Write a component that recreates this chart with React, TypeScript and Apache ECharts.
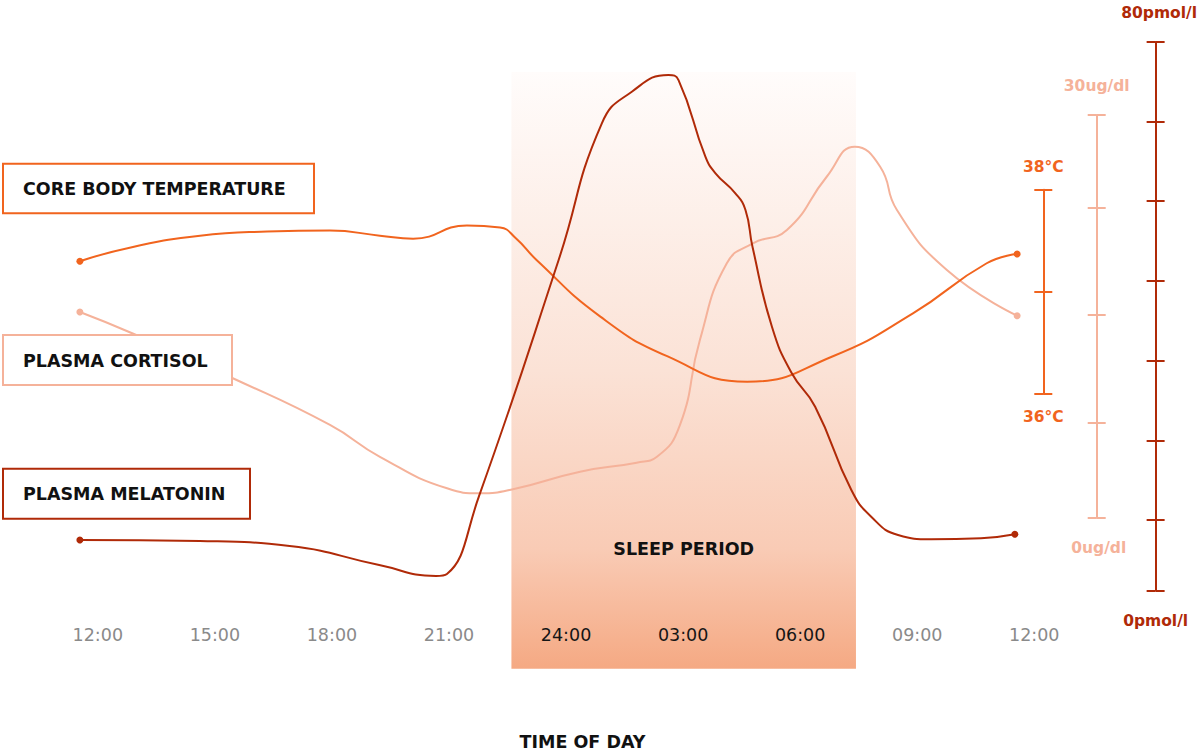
import React, { useEffect, useRef } from "react";
import * as echarts from "echarts";

const seriesNames = ["CORE BODY TEMPERATURE", "PLASMA CORTISOL", "PLASMA MELATONIN"];
const tickHours = [0, 3, 6, 9, 12, 15, 18, 21, 24];
const tickLabels = ["12:00", "15:00", "18:00", "21:00", "24:00", "03:00", "06:00", "09:00", "12:00"];
const sleepPeriod = [10.6, 19.43];
const sleepLabel = "SLEEP PERIOD";
const xTitle = "TIME OF DAY";

const tempHours = [-0.46, 0.9, 2.62, 4.34, 5.95, 7.23, 8.08, 9.46, 10.31, 10.7, 11.25, 12.87, 14.59, 16.64, 18.84, 20.89, 22.78, 23.56];
const tempValues = [37.3, 37.44, 37.55, 37.59, 37.6, 37.55, 37.52, 37.65, 37.63, 37.53, 37.31, 36.76, 36.37, 36.12, 36.37, 36.79, 37.28, 37.37];

const cortHours = [-0.46, 0.88, 3.46, 5.95, 7.23, 8.95, 9.79, 10.64, 12.36, 13.81, 14.33, 14.92, 15.43, 16.12, 16.79, 17.66, 18.68, 19.4, 20.05, 20.48, 21.76, 23.56];
const cortValues = [15.32, 13.74, 10.39, 6.91, 4.54, 2.19, 1.82, 2.12, 3.43, 4.1, 4.54, 6.91, 13.24, 18.95, 20.44, 21.43, 25.4, 27.64, 26.15, 22.92, 18.45, 15.05];

const melHours = [-0.46, 2.62, 4.93, 7.23, 8.69, 8.97, 9.79, 11.84, 12.95, 13.72, 14.66, 14.92, 15.61, 15.87, 16.38, 16.64, 16.82, 17.32, 17.83, 18.43, 19.36, 19.87, 20.56, 21.41, 22.69, 23.56];
const melValues = [7.34, 7.19, 6.46, 3.69, 2.09, 2.38, 13.66, 48.19, 68.14, 72.75, 75.18, 74.45, 63.26, 60.84, 57.92, 55.49, 50.13, 38.46, 31.66, 26.79, 14.63, 10.74, 8.07, 7.44, 7.59, 8.17];

const tempRange = [36, 38];
const tempTicks = [36, 37, 38];
const cortRange = [0, 30];
const cortTicks = [0, 7.05, 15.1, 23.12, 30];
const melRange = [0, 80];
const melTicks = [0, 10.26, 21.88, 33.5, 45.13, 56.8, 68.37, 80];
const axisNames = [["38°C", "36°C"], ["30ug/dl", "0ug/dl"], ["80pmol/l", "0pmol/l"]];

const C_TEMP = "#f1641e";
const C_CORT = "#f5b29a";
const C_MEL = "#b02a08";
const FONT = "DejaVu Sans";

function toData(hours: number[], values: number[]) {
  const last = hours.length - 1;
  return hours.map((h, i) =>
    i === 0 || i === last ? { value: [h, values[i]], symbol: "circle", symbolSize: 7 } : [h, values[i]]
  );
}

export default function App() {
  const ref = useRef<HTMLDivElement>(null);
  useEffect(() => {
    if (!ref.current) return;
    const chart = echarts.init(ref.current, undefined, { renderer: "svg" });
    const left = 78.3;
    const right = 146.2;
    const gridRightX = 1200 - right;
    const grids = [
      { left, right, top: 189.7, bottom: 752 - 394 },
      { left, right, top: 115, bottom: 752 - 517.7 },
      { left, right, top: 42, bottom: 752 - 590.3 },
      { left, right, top: 72, bottom: 752 - 668.7 },
    ];
    const xAxes = grids.map((g, i) => ({
      type: "value",
      gridIndex: i,
      min: -0.5,
      max: 24.5,
      show: i === 3,
      z: 10,
      axisLine: { show: false, onZero: false },
      axisTick: { show: false },
      splitLine: { show: false },
      axisLabel: {
        show: i === 3,
        inside: true,
        margin: 25,
        customValues: tickHours,
        fontFamily: FONT,
        fontSize: 17.5,
        color: (v: any) => {
          const n = Number(v);
          return n > sleepPeriod[0] && n < sleepPeriod[1] ? "#151515" : "#8a8a8a";
        },
        formatter: (v: any) => {
          const idx = tickHours.indexOf(Math.round(Number(v)));
          return idx >= 0 ? tickLabels[idx] : "";
        },
      },
    }));

    const nameStyle = (color: string, padLeft = 0) => ({
      color,
      fontFamily: FONT,
      fontWeight: "bold",
      fontSize: 15.5,
      padding: [0, 0, 0, padLeft],
    });

    const makeAxisPair = (
      gridIndex: number,
      range: number[],
      ticks: number[],
      axisX: number,
      color: string,
      names: string[],
      gapTop: number,
      gapBottom: number,
      padTop: number,
      padBottom: number
    ) => {
      const common = {
        type: "value",
        gridIndex,
        min: range[0],
        max: range[1],
        position: "right",
        offset: axisX - gridRightX,
        axisLabel: { show: false },
        splitLine: { show: false },
      };
      return [
        {
          ...common,
          axisLine: { show: true, onZero: false, lineStyle: { color, width: 2 } },
          axisTick: { show: true, inside: true, length: 9, customValues: ticks, lineStyle: { color, width: 2 } },
          name: names[0],
          nameLocation: "end",
          nameGap: gapTop,
          nameTextStyle: nameStyle(color, padTop),
        },
        {
          ...common,
          axisLine: { show: false, onZero: false },
          axisTick: { show: true, inside: false, length: 9, customValues: ticks, lineStyle: { color, width: 2 } },
          name: names[1],
          nameLocation: "start",
          nameGap: gapBottom,
          nameTextStyle: nameStyle(color, padBottom),
        },
      ];
    };

    const yAxes: any[] = [
      ...makeAxisPair(0, tempRange, tempTicks, 1043.3, C_TEMP, axisNames[0], 15, 15, 0, 0),
      ...makeAxisPair(1, cortRange, cortTicks, 1096.7, C_CORT, axisNames[1], 21, 22, 0, 4),
      ...makeAxisPair(2, melRange, melTicks, 1158, C_MEL, axisNames[2], 21, 23, 7, 0),
      { type: "value", gridIndex: 3, min: 0, max: 1, show: false, axisLine: { onZero: false } },
    ];

    const lineSeries = (name: string, xi: number, yi: number, data: any[], color: string) => ({
      type: "line",
      name,
      xAxisIndex: xi,
      yAxisIndex: yi,
      data,
      smooth: 0.5,
      clip: false,
      symbol: "none",
      lineStyle: { color, width: 2 },
      itemStyle: { color },
      z: 3,
      silent: true,
    });

    const boxes = [
      { name: seriesNames[0], color: C_TEMP, x: 3, y: 163.7, w: 311, h: 49.5, ty: 189.3 },
      { name: seriesNames[1], color: C_CORT, x: 3, y: 335, w: 229, h: 50, ty: 361 },
      { name: seriesNames[2], color: C_MEL, x: 3, y: 468.7, w: 247, h: 50, ty: 494.3 },
    ];
    const graphics: any[] = [];
    boxes.forEach((b) => {
      graphics.push({
        type: "rect",
        shape: { x: b.x, y: b.y, width: b.w, height: b.h },
        style: { fill: "#ffffff", stroke: b.color, lineWidth: 2 },
        z: 100,
      });
      graphics.push({
        type: "text",
        x: 23,
        y: b.ty,
        style: {
          text: b.name,
          fill: "#111111",
          fontFamily: FONT,
          fontWeight: "bold",
          fontSize: 17.5,
          verticalAlign: "middle",
          align: "left",
        },
        z: 101,
      });
    });
    graphics.push({
      type: "text",
      x: 582.5,
      y: 741.7,
      style: {
        text: xTitle,
        fill: "#111111",
        fontFamily: FONT,
        fontWeight: "bold",
        fontSize: 17.5,
        align: "center",
        verticalAlign: "middle",
      },
      z: 101,
    });

    chart.setOption({
      animation: false,
      backgroundColor: "#ffffff",
      grid: grids,
      xAxis: xAxes,
      yAxis: yAxes,
      graphic: graphics,
      series: [
        {
          type: "line",
          xAxisIndex: 3,
          yAxisIndex: 6,
          data: sleepPeriod.map((h) => [h, 0]),
          symbol: "none",
          lineStyle: { opacity: 0, width: 0 },
          silent: true,
          z: 1,
          markArea: {
            silent: true,
            itemStyle: {
              color: new echarts.graphic.LinearGradient(0, 0, 0, 1, [
                { offset: 0, color: "#fffcfb" },
                { offset: 0.5, color: "#fbe2d6" },
                { offset: 0.8, color: "#f9cbb5" },
                { offset: 1, color: "#f5a983" },
              ]),
            },
            label: {
              show: true,
              position: "insideBottom",
              distance: 111,
              color: "#111111",
              fontFamily: FONT,
              fontWeight: "bold",
              fontSize: 17.5,
            },
            data: [[{ name: sleepLabel, xAxis: sleepPeriod[0] }, { xAxis: sleepPeriod[1] }]],
          },
        },
        lineSeries(seriesNames[1], 1, 2, toData(cortHours, cortValues), C_CORT),
        lineSeries(seriesNames[0], 0, 0, toData(tempHours, tempValues), C_TEMP),
        lineSeries(seriesNames[2], 2, 4, toData(melHours, melValues), C_MEL),
      ],
    });
    return () => chart.dispose();
  }, []);
  return <div ref={ref} style={{ position: "absolute", left: 0, top: 0, width: 1200, height: 752 }} />;
}
